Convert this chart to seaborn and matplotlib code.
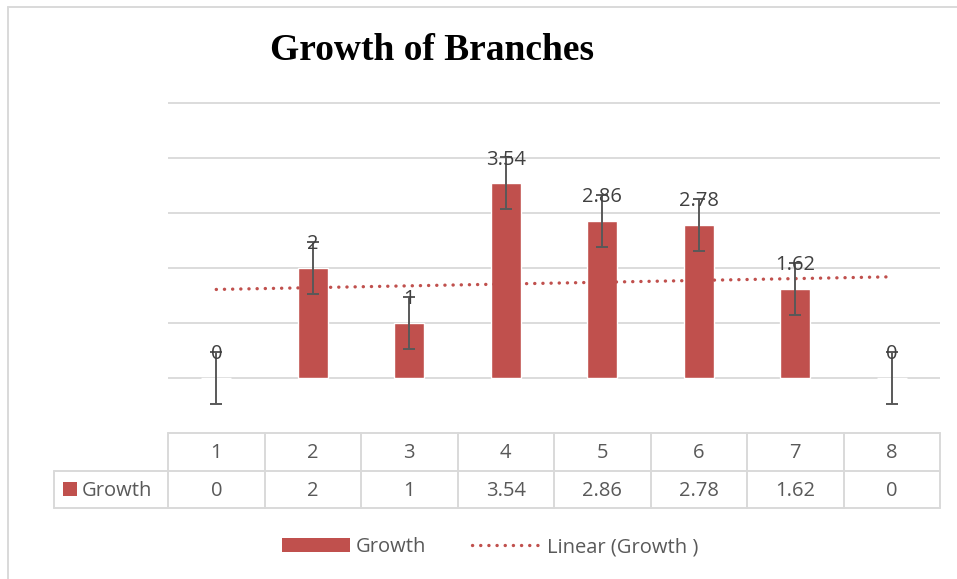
import numpy as np
import pandas as pd
import matplotlib
matplotlib.use("Agg")
import matplotlib.pyplot as plt
import seaborn as sns
from matplotlib.lines import Line2D
from matplotlib.patches import Rectangle

# ---- data ----
categories = ["1", "2", "3", "4", "5", "6", "7", "8"]
growth = [0, 2, 1, 3.54, 2.86, 2.78, 1.62, 0]
error = [0.47, 0.47, 0.47, 0.47, 0.47, 0.47, 0.47, 0.47]
series_name = "Growth"
trend_name = "Linear (Growth )"
title = "Growth of Branches"
y_ticks = [0, 1, 2, 3, 4, 5]

BAR = "#C0504D"
GRID = "#D9D9D9"
TXT = "#595959"
LBL = "#404040"
FONT = "Open Sans"
FS = 14.5

sns.set_theme(style="white")
plt.rcParams["font.family"] = [FONT, "DejaVu Sans"]

W, H = 957, 579
fig = plt.figure(figsize=(W / 100, H / 100), dpi=100)

def fx(px):
    return px / W

def fy(py):
    return 1 - py / H

# plot area: x 168..940, y 100..432 px ; 0 at 378px, 55 px per unit
top_px, bot_px = 100, 432
ax = fig.add_axes([fx(168), fy(bot_px), fx(940) - fx(168), fy(top_px) - fy(bot_px)])
ymax = (378 - top_px) / 55
ymin = -(bot_px - 378) / 55

df = pd.DataFrame({"cat": categories, "val": growth})
sns.barplot(data=df, x="cat", y="val", order=categories, color=BAR,
            width=0.31, saturation=1, ax=ax, zorder=3)
pos = np.arange(len(categories))
ax.errorbar(pos, growth, yerr=error, fmt="none", ecolor="#595959",
            elinewidth=1.4, capsize=4.3, capthick=1.4, zorder=5)

# linear trendline
xnum = np.arange(1, len(growth) + 1)
k, b = np.polyfit(xnum, growth, 1)
ax.plot(pos, k * xnum + b, color=BAR, lw=2.4, linestyle=(0, (0.05, 2.4)),
        dash_capstyle="round", zorder=4)

for p, v in zip(pos, growth):
    ax.annotate(f"{v:g}", (p, v), xytext=(0, 17), textcoords="offset points",
                ha="center", va="center", fontsize=FS, color=LBL, zorder=6)

ax.set_ylim(ymin, ymax)
ax.set_xlim(-0.5, len(categories) - 0.5)
ax.set_yticks(y_ticks)
ax.yaxis.grid(True, color=GRID, lw=1.3, zorder=0)
ax.set_axisbelow(True)
ax.set_xticks([])
ax.set_yticklabels([])
ax.tick_params(left=False, bottom=False)
ax.set_xlabel("")
ax.set_ylabel("")
for s in ax.spines.values():
    s.set_visible(False)

# overlay for table, legend, title, border
ov = fig.add_axes([0, 0, 1, 1], zorder=-1)
ov.set_xlim(0, W)
ov.set_ylim(H, 0)
ov.axis("off")
ov.patch.set_alpha(0)

# chart border
ov.add_line(Line2D([8, 8], [7, H + 5], color="#D9D9D9", lw=1.4))
ov.add_line(Line2D([8, W + 5], [7, 7], color="#D9D9D9", lw=1.4))

# data table
col_w = (940 - 168) / len(categories)
xs = [168 + i * col_w for i in range(len(categories) + 1)]
r0, r1, r2 = 433, 470.5, 508
lw_t = 1.4
ov.add_line(Line2D([168, 940], [r0, r0], color=GRID, lw=lw_t))
ov.add_line(Line2D([54, 940], [r1, r1], color=GRID, lw=lw_t))
ov.add_line(Line2D([54, 940], [r2, r2], color=GRID, lw=lw_t))
for x in xs:
    ov.add_line(Line2D([x, x], [r0, r2], color=GRID, lw=lw_t))
ov.add_line(Line2D([54, 54], [r1, r2], color=GRID, lw=lw_t))
for i, (c, v) in enumerate(zip(categories, growth)):
    cx = (xs[i] + xs[i + 1]) / 2
    ov.text(cx, 458, c, ha="center", va="baseline", fontsize=FS, color=TXT)
    ov.text(cx, 496, f"{v:g}", ha="center", va="baseline", fontsize=FS, color=TXT)
ov.add_patch(Rectangle((63, 482), 13.5, 13.5, color=BAR, lw=0))
ov.text(82, 496, series_name, ha="left", va="baseline", fontsize=FS, color=TXT)

# legend
ov.add_patch(Rectangle((282, 538), 68, 14, color=BAR, lw=0))
ov.text(356, 552, series_name, ha="left", va="baseline", fontsize=FS, color=TXT)
ov.add_line(Line2D([472, 538], [545, 545], color=BAR, lw=2.4,
                   linestyle=(0, (0.05, 2.4)), dash_capstyle="round"))
ov.text(547, 552, trend_name, ha="left", va="baseline", fontsize=FS, color=TXT)

# title
ov.text(432.5, 50, title, ha="center", va="center", fontsize=27,
        fontweight="bold", family=["Liberation Serif", "DejaVu Serif"], color="black")

fig.savefig("out.png", dpi=100)
